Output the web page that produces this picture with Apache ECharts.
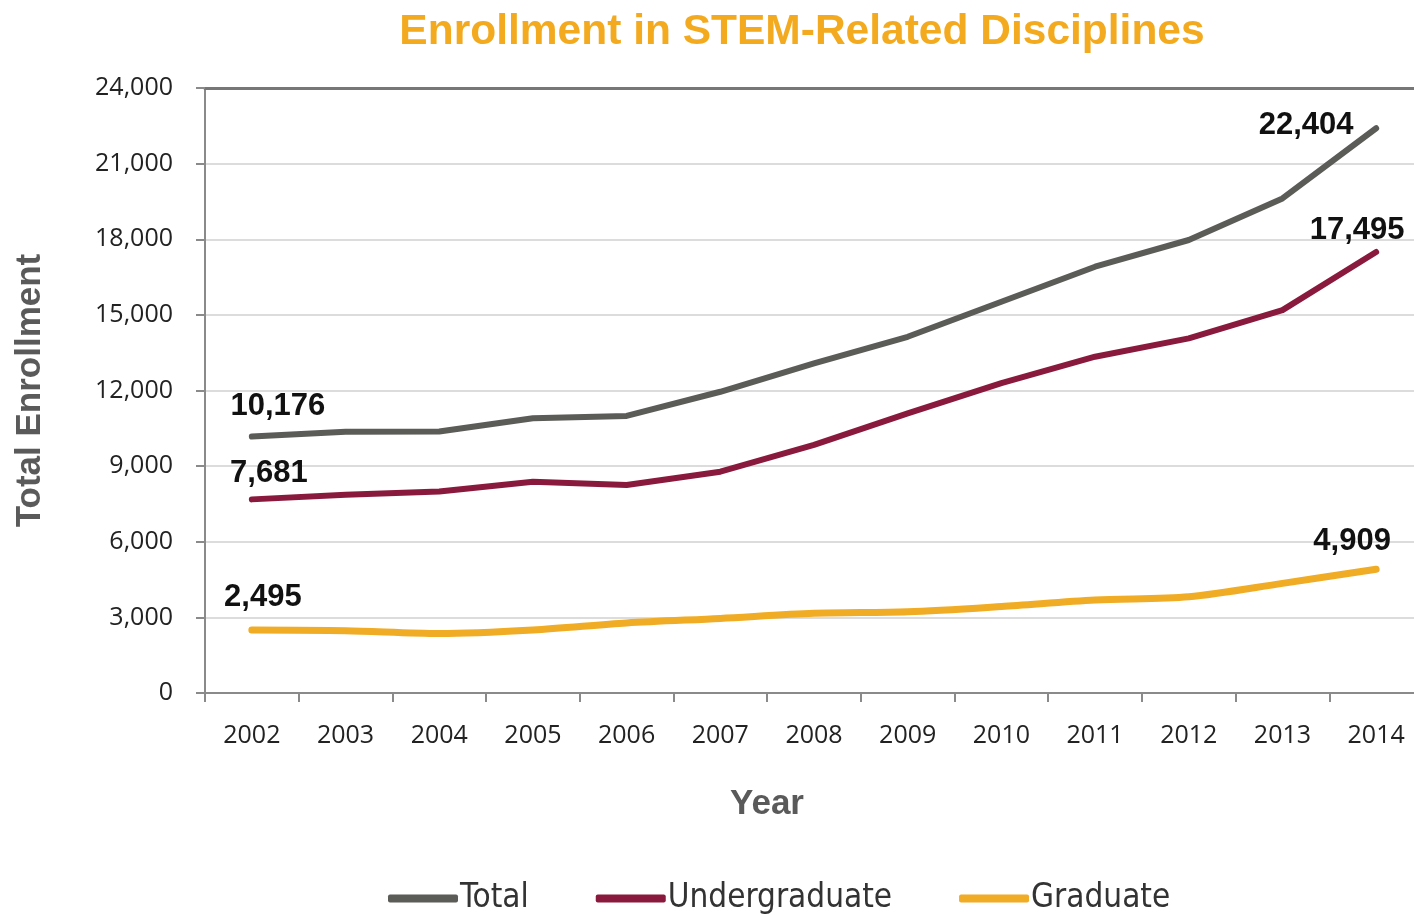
<!DOCTYPE html>
<html>
<head>
<meta charset="utf-8">
<title>Enrollment in STEM-Related Disciplines</title>
<script src="https://cdn.jsdelivr.net/npm/echarts@6/dist/echarts.min.js"></script>
<style>
  html, body { margin: 0; padding: 0; background: #fff; }
  #chart { width: 1414px; height: 915px; }
</style>
</head>
<body>
<div id="chart"></div>
<script>
// Fall enrollment by academic year
const years = ['2002', '2003', '2004', '2005', '2006', '2007', '2008', '2009', '2010', '2011', '2012', '2013', '2014'];
const totalEnrollment = [10176, 10360, 10370, 10900, 10990, 11950, 13080, 14130, 15520, 16910, 17970, 19620, 22404];
const undergraduate = [7681, 7860, 7990, 8380, 8250, 8780, 9840, 11090, 12290, 13340, 14070, 15190, 17495];
const graduate = [2495, 2470, 2360, 2500, 2780, 2960, 3160, 3220, 3430, 3690, 3820, 4350, 4909];
const yTicks = { min: 0, max: 24000, interval: 3000 };

const COLORS = { total: '#5b5b57', under: '#8a1a3d', grad: '#f0ac24' };
const fmt = v => v.toLocaleString('en-US');

// Value labels only on the first and last year, nudged off the line
function endLabels(values, firstOffset, lastOffset) {
  return values.map((v, i) => {
    if (i === 0 || i === values.length - 1) {
      return {
        value: v,
        label: {
          show: true,
          position: 'top',
          distance: 5,
          offset: i === 0 ? firstOffset : lastOffset,
          formatter: p => fmt(p.value),
          fontFamily: 'Liberation Sans, Arial, sans-serif',
          fontWeight: 'bold',
          fontSize: 31,
          color: '#111'
        }
      };
    }
    return v;
  });
}

function lineSeries(name, values, color, width, firstOffset, lastOffset, smooth) {
  return {
    name: name,
    type: 'line',
    data: endLabels(values, firstOffset, lastOffset),
    symbol: 'circle',
    symbolSize: 1,
    showSymbol: true,
    smooth: smooth || false,
    lineStyle: { color: color, width: width, cap: 'round', join: 'round' },
    itemStyle: { color: color },
    z: 3
  };
}

const chart = echarts.init(document.getElementById('chart'));

chart.setOption({
  backgroundColor: '#fff',
  animation: false,
  title: {
    text: 'Enrollment in STEM-Related Disciplines',
    left: 797,
    textAlign: 'center',
    top: 6,
    textStyle: {
      fontFamily: 'Liberation Sans, Arial, sans-serif',
      fontWeight: 'bold',
      fontSize: 42.5,
      color: '#f3aa1f'
    }
  },
  grid: {
    left: 205, top: 88, width: 1218, bottom: 222,
    containLabel: false,
    outerBoundsMode: 'none'
  },
  legend: {
    bottom: -5,
    left: 383,
    itemWidth: 70,
    itemHeight: 8,
    itemGap: 67,
    icon: 'roundRect',
    textStyle: {
      fontFamily: 'Liberation Sans Narrow, DejaVu Sans Condensed, sans-serif',
      fontSize: 33,
      color: '#333',
      padding: [0, 0, 0, -3]
    },
    data: ['Total', 'Undergraduate', 'Graduate']
  },
  xAxis: [
    {
      type: 'category',
      data: years,
      boundaryGap: true,
      axisLine: { lineStyle: { color: '#8a8a8a', width: 2 } },
      axisTick: { show: true, length: 9, lineStyle: { color: '#8a8a8a', width: 2 } },
      axisLabel: {
        margin: 30,
        fontFamily: 'Open Sans, sans-serif',
        fontSize: 25,
        color: '#222'
      },
      splitLine: { show: false }
    },
    {
      // top border of the plot
      type: 'category',
      data: years,
      position: 'top',
      axisLine: { lineStyle: { color: '#777', width: 3 } },
      axisTick: { show: false },
      axisLabel: { show: false }
    }
  ],
  yAxis: {
    type: 'value',
    min: yTicks.min,
    max: yTicks.max,
    interval: yTicks.interval,
    name: 'Total Enrollment',
    nameLocation: 'middle',
    nameGap: 157,
    nameTextStyle: {
      fontFamily: 'Liberation Sans, Arial, sans-serif',
      fontWeight: 'bold',
      fontSize: 35,
      color: '#5a5a5a'
    },
    axisLine: { show: true, lineStyle: { color: '#8a8a8a', width: 2 } },
    axisTick: { show: true, length: 9, lineStyle: { color: '#8a8a8a', width: 2 } },
    axisLabel: {
      margin: 32,
      fontFamily: 'Open Sans, sans-serif',
      fontSize: 25,
      color: '#222',
      formatter: v => fmt(v)
    },
    splitLine: { lineStyle: { color: '#dcdcdc', width: 2 } }
  },
  graphic: [
    {
      type: 'text',
      x: 767,
      y: 804,
      style: {
        text: 'Year',
        font: 'bold 35px "Liberation Sans", Arial, sans-serif',
        fill: '#5a5a5a',
        align: 'center',
        verticalAlign: 'middle'
      }
    }
  ],
  series: [
    lineSeries('Total', totalEnrollment, COLORS.total, 6, [26, -9], [-70, 18]),
    lineSeries('Undergraduate', undergraduate, COLORS.under, 6, [17, -5], [-19, -1]),
    lineSeries('Graduate', graduate, COLORS.grad, 7, [11, -12], [-24, -7], 0.3)
  ]
});
</script>
</body>
</html>
